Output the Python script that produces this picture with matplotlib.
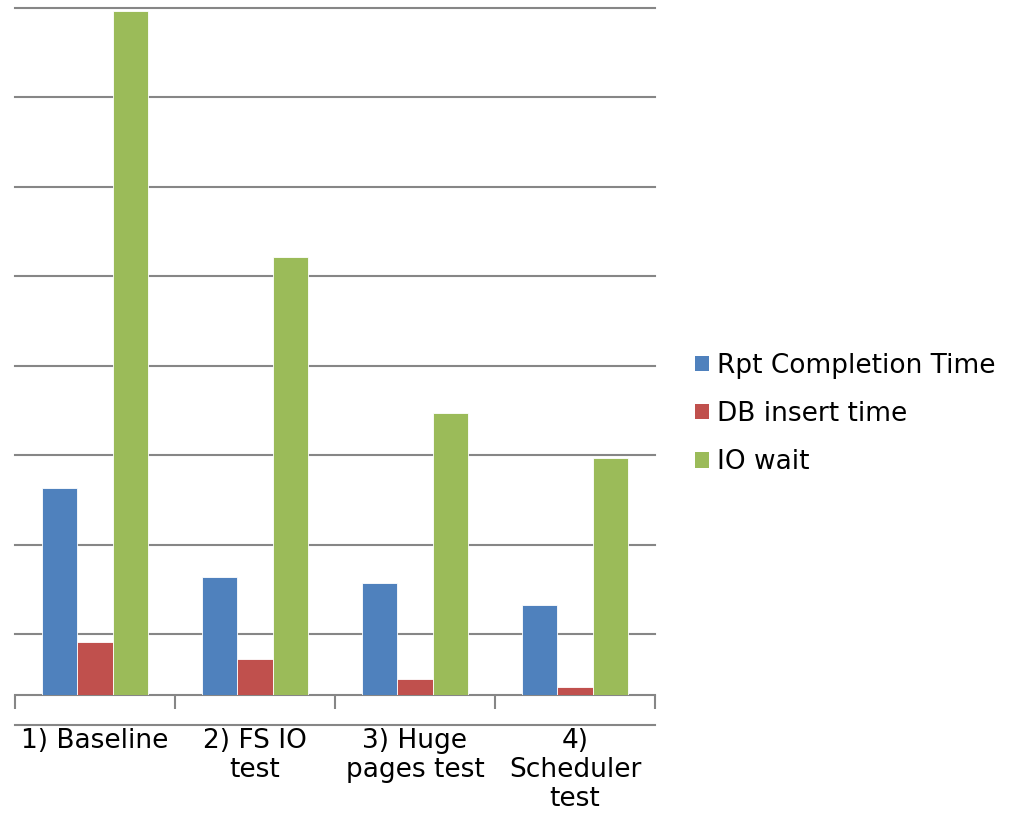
import matplotlib
matplotlib.use("Agg")
import matplotlib.pyplot as plt
from matplotlib.patches import Patch
import numpy as np

categories = ["1) Baseline", "2) FS IO\ntest", "3) Huge\npages test", "4)\nScheduler\ntest"]
series = ["Rpt Completion Time", "DB insert time", "IO wait"]
rpt_completion = [2.31, 1.32, 1.25, 1.01]
db_insert = [0.59, 0.40, 0.18, 0.09]
io_wait = [7.64, 4.89, 3.15, 2.65]
colors = ["#4F81BD", "#C0504D", "#9BBB59"]
grid_color = "#868686"

fig = plt.figure(figsize=(10.15, 8.13), dpi=100)
ax = fig.add_axes([15 / 1015, 118 / 813, 640 / 1015, 687 / 813])

x = np.arange(len(categories))
w = 0.222
for i, (vals, c) in enumerate(zip([rpt_completion, db_insert, io_wait], colors)):
    ax.bar(x + (i - 1) * w, vals, width=w, color=c, edgecolor="white", linewidth=0.6, zorder=3)

ax.set_xlim(-0.5, 3.5)
ax.set_ylim(0, 7.676)
ax.set_yticks([0.676 + k for k in range(8)])
ax.yaxis.grid(True, color=grid_color, linewidth=1.5)
for gl in ax.get_ygridlines():
    gl.set_clip_on(False)
ax.tick_params(axis="y", left=False, labelleft=False)

for s in ["top", "right", "left"]:
    ax.spines[s].set_visible(False)
ax.spines["bottom"].set_color(grid_color)
ax.spines["bottom"].set_linewidth(1.5)

ax.set_xticks(x)
ax.set_xticklabels(categories, fontsize=19, linespacing=1.15, va="top")
ax.tick_params(axis="x", length=0, pad=24)
ax.set_xticks(np.arange(-0.5, 4, 1), minor=True)
ax.tick_params(axis="x", which="minor", length=10, width=1.5, color=grid_color, direction="out")

ax.plot([-0.5, 3.5], [-30 / 687, -30 / 687], transform=ax.get_xaxis_transform(),
        color=grid_color, linewidth=1.5, clip_on=False)

handles = [Patch(facecolor=c, edgecolor="none") for c in colors]
fig.legend(handles, series, loc="center left", bbox_to_anchor=(695 / 1015, 1 - 414 / 813),
           frameon=False, fontsize=19, handlelength=0.52, handleheight=0.52,
           handletextpad=0.3, labelspacing=0.85, borderpad=0, borderaxespad=0)

fig.savefig("out.png", dpi=100)
plt.close(fig)
